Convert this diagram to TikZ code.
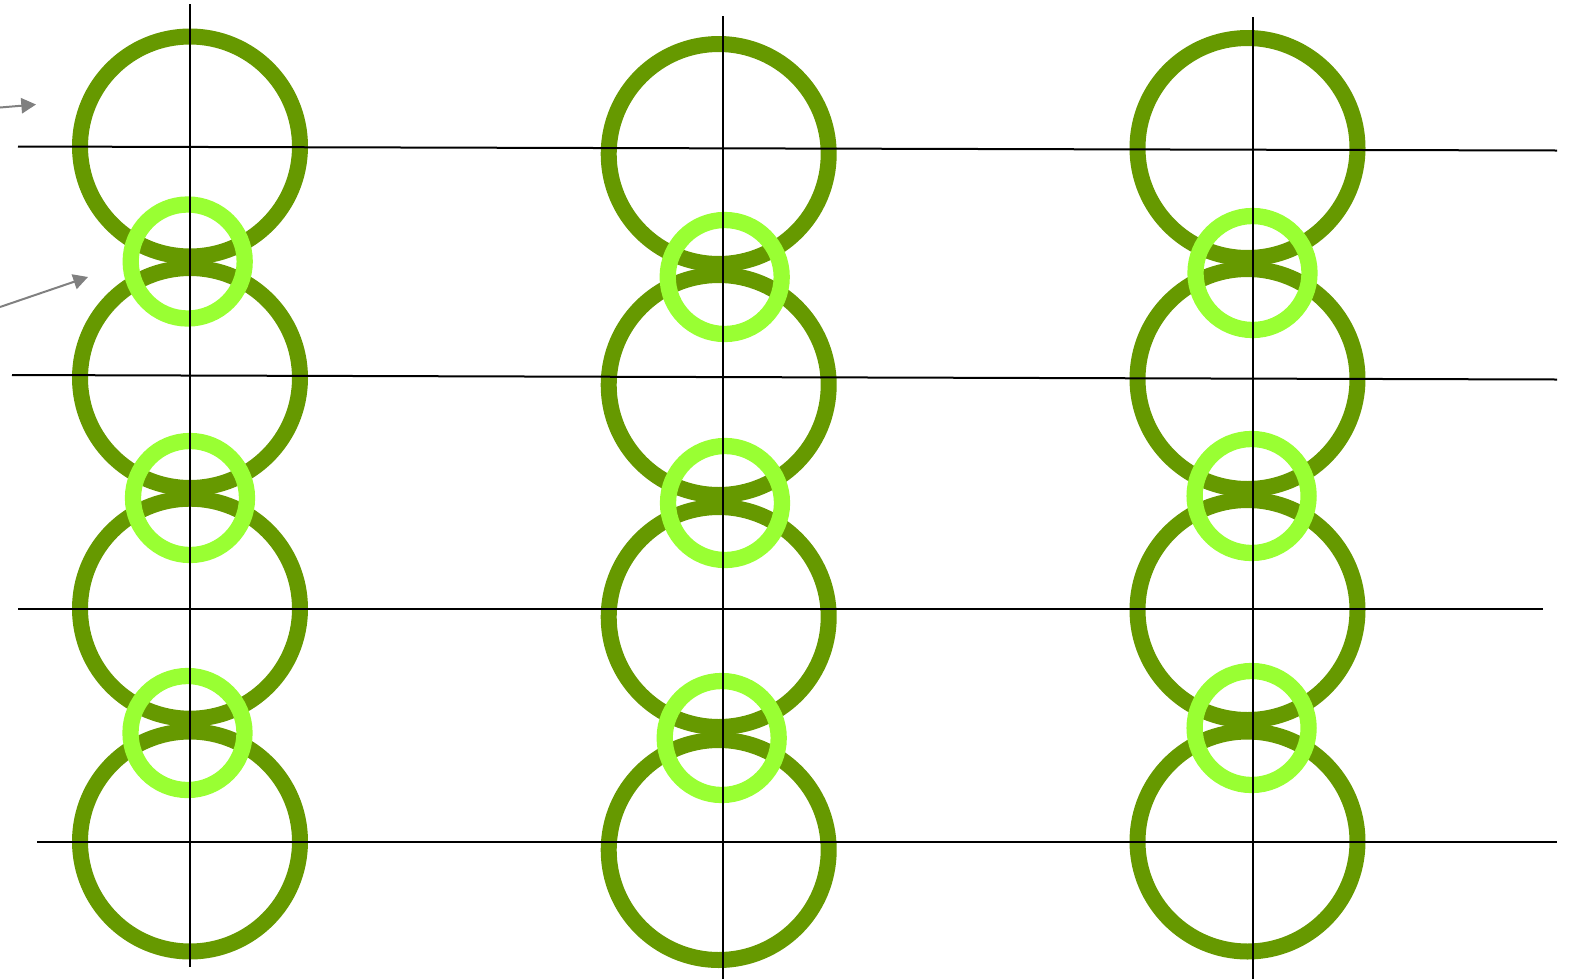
\documentclass[tikz,border=0pt]{standalone}
\usepackage{xcolor}
\usetikzlibrary{arrows.meta}
\definecolor{ringdark}{RGB}{102,153,0}
\definecolor{ringlight}{RGB}{153,255,51}
\definecolor{pointergray}{RGB}{128,128,128}

\begin{document}
\begin{tikzpicture}[x=0.75pt,y=0.75pt,yscale=-1,xscale=1,
    bigring/.style={color=ringdark,draw opacity=1,line width=12},
    smallring/.style={color=ringlight,draw opacity=1,line width=12.2},
    gridline/.style={color=black,line width=1.5},
    pointer/.style={color=pointergray,line width=1.5,-{Triangle[length=11,width=11.5]}}]
        \useasboundingbox (0,0) rectangle (1575,979);
        
        %Shape: Circle [id:dp1] column 1
        \draw [bigring] (190,146.5) circle [radius=110];
        \draw [bigring] (190,378) circle [radius=110];
        \draw [bigring] (190,608.7) circle [radius=110];
        \draw [bigring] (190,841.5) circle [radius=110];
        %Shape: Circle [id:dp2] column 2
        \draw [bigring] (718.7,154) circle [radius=110];
        \draw [bigring] (718.7,385) circle [radius=110];
        \draw [bigring] (718.7,617) circle [radius=110];
        \draw [bigring] (718.7,850) circle [radius=110];
        %Shape: Circle [id:dp3] column 3
        \draw [bigring] (1247.5,148) circle [radius=110];
        \draw [bigring] (1247.5,379) circle [radius=110];
        \draw [bigring] (1247.5,610) circle [radius=110];
        \draw [bigring] (1247.5,841.5) circle [radius=110];
        
        %Shape: Circle [id:dp4] small rings
        \draw [smallring] (187.7,261.5) circle [radius=57];
        \draw [smallring] (190,498) circle [radius=57];
        \draw [smallring] (187.5,733) circle [radius=57];
        \draw [smallring] (724.7,277) circle [radius=57];
        \draw [smallring] (725,503) circle [radius=57];
        \draw [smallring] (721.7,738) circle [radius=57];
        \draw [smallring] (1252.5,273) circle [radius=57];
        \draw [smallring] (1251.6,496) circle [radius=57];
        \draw [smallring] (1251.6,728) circle [radius=57];
        
        %Straight Lines [id:da1] horizontal
        \draw [gridline] (18,146.5) -- (1557,150.5) ;
        \draw [gridline] (12,375) -- (1557,379.5) ;
        \draw [gridline] (18,609) -- (1543,609) ;
        \draw [gridline] (37,842) -- (1557,842) ;
        %Straight Lines [id:da2] vertical
        \draw [gridline] (190,4) -- (190,967) ;
        \draw [gridline] (723,16) -- (723,979) ;
        \draw [gridline] (1252.5,17) -- (1252.5,979) ;
        
        %Straight Lines [id:da3] pointers
        \coordinate (tailA) at (0,107.5);
        \coordinate (tipA) at (36,104.5);
        \coordinate (tailB) at (0,307);
        \coordinate (tipB) at (88,277);
        \draw [pointer] (tailA) -- (tipA) ;
        \draw [pointer] (tailB) -- (tipB) ;
        
\end{tikzpicture}
\end{document}
